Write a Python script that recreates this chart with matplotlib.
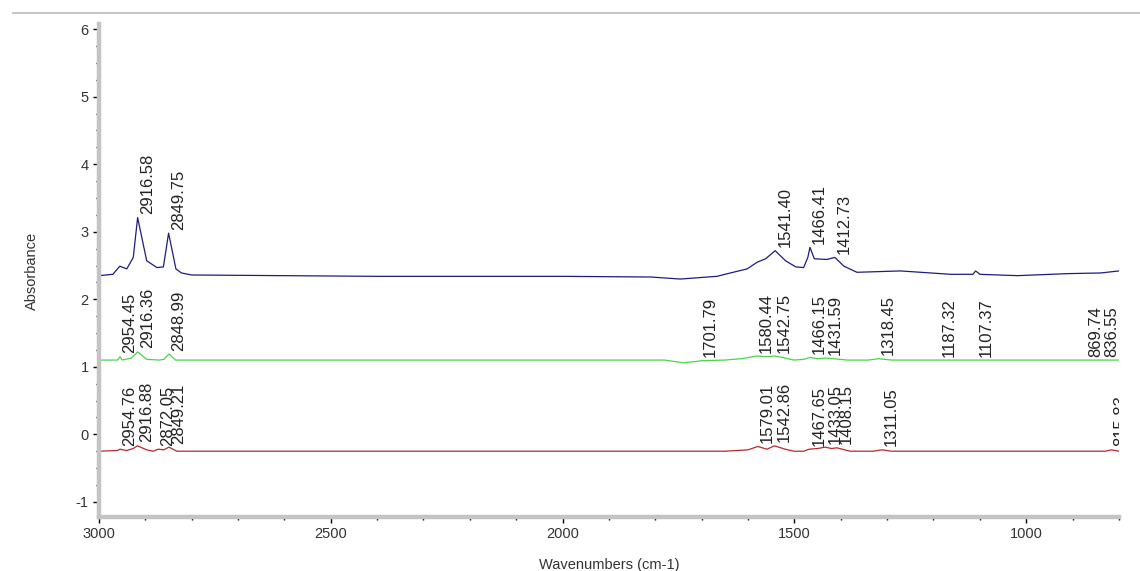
import numpy as np, matplotlib
matplotlib.use("Agg"); import matplotlib.pyplot as plt
from matplotlib.ticker import MultipleLocator
from matplotlib.lines import Line2D

plt.rcParams['font.family'] = ['Liberation Sans', 'DejaVu Sans']
plt.rcParams['axes.unicode_minus'] = False

# spectra (wavenumber, absorbance)
blue_wn  = [3000, 2970, 2955, 2940, 2926, 2916.6, 2897, 2875, 2861, 2849.8, 2834, 2822, 2800, 2600, 2400, 2200, 2000, 1810,
            1746, 1667, 1638, 1602, 1580, 1562, 1541.4, 1519, 1497, 1480, 1471, 1466.4, 1457, 1430, 1412.7, 1393, 1365,
            1271, 1163, 1115, 1109, 1100, 1019, 911, 839, 800]
blue_abs = [2.35, 2.37, 2.49, 2.45, 2.62, 3.21, 2.57, 2.47, 2.48, 2.98, 2.45, 2.39, 2.36, 2.35, 2.34, 2.34, 2.34, 2.33,
            2.30, 2.34, 2.39, 2.45, 2.55, 2.60, 2.72, 2.57, 2.48, 2.47, 2.62, 2.77, 2.60, 2.59, 2.62, 2.49, 2.40,
            2.42, 2.37, 2.37, 2.42, 2.37, 2.35, 2.38, 2.39, 2.42]

green_wn  = [3000, 2960, 2954.5, 2950, 2930, 2916.4, 2897, 2870, 2860, 2849.0, 2835, 2800, 2200, 1780, 1740, 1710, 1701.8,
             1650, 1615, 1580.4, 1560, 1542.8, 1520, 1501, 1480, 1466.2, 1450, 1431.6, 1400, 1386, 1340, 1318.5, 1290,
             1187.3, 1107.4, 869.7, 836.6, 800]
green_abs = [1.10, 1.10, 1.15, 1.10, 1.13, 1.22, 1.11, 1.10, 1.11, 1.19, 1.10, 1.10, 1.10, 1.10, 1.06, 1.08, 1.09,
             1.10, 1.12, 1.16, 1.15, 1.16, 1.13, 1.10, 1.11, 1.14, 1.12, 1.13, 1.11, 1.10, 1.10, 1.12, 1.10,
             1.10, 1.10, 1.10, 1.10, 1.10]

red_wn  = [3000, 2960, 2954.8, 2940, 2926, 2916.9, 2897, 2883, 2872.1, 2860, 2849.2, 2832, 2800, 2400, 2000, 1650,
           1600, 1579.0, 1559, 1542.9, 1520, 1501, 1480, 1467.7, 1450, 1433.1, 1420, 1408.2, 1380, 1330, 1311.1,
           1290, 1000, 830, 815.8, 800]
red_abs = [-0.25, -0.24, -0.22, -0.24, -0.21, -0.17, -0.23, -0.25, -0.22, -0.23, -0.19, -0.25, -0.25, -0.25, -0.25, -0.25,
           -0.23, -0.18, -0.22, -0.17, -0.22, -0.25, -0.25, -0.22, -0.21, -0.19, -0.21, -0.20, -0.25, -0.25, -0.23,
           -0.25, -0.25, -0.25, -0.23, -0.25]

blue_peaks  = [2916.58, 2849.75, 1541.40, 1466.41, 1412.73]
green_peaks = [2954.45, 2916.36, 2848.99, 1701.79, 1580.44, 1542.75, 1466.15, 1431.59, 1318.45, 1187.32, 1107.37, 869.74, 836.55]
red_peaks   = [2954.76, 2916.88, 2872.05, 2849.21, 1579.01, 1542.86, 1467.65, 1433.05, 1408.15, 1311.05, 815.83]

series = [(blue_wn, blue_abs, blue_peaks, '#1c1c84'),
          (green_wn, green_abs, green_peaks, '#4bd44b'),
          (red_wn, red_abs, red_peaks, '#b82a2a')]

fig = plt.figure(figsize=(11.4, 5.71), dpi=100)
ax = fig.add_axes([0.0868, 0.0951, 0.8947, 0.862])
for wn, ab, pk, c in series:
    ax.plot(wn, ab, color=c, lw=0.9)
    for p in pk:
        yp = np.interp(p, wn[::-1], ab[::-1])
        ax.annotate(f"{p:.2f}", (p, yp), xytext=(1.5, 2.5), textcoords='offset points', rotation=90,
                    ha='left', va='bottom', fontsize=12, color='#222222', annotation_clip=False, clip_on=True)

ax.set_xlim(3000, 800); ax.set_ylim(-1.22, 6.07)
ax.xaxis.set_major_locator(MultipleLocator(500)); ax.xaxis.set_minor_locator(MultipleLocator(100))
ax.yaxis.set_major_locator(MultipleLocator(1)); ax.yaxis.set_minor_locator(MultipleLocator(0.25))
for s in ['top', 'right']: ax.spines[s].set_visible(False)
for s in ['left', 'bottom']: ax.spines[s].set_color('#c4c4c4'); ax.spines[s].set_linewidth(3.2)
ax.tick_params(which='major', length=4.5, width=1, color='k', labelsize=10.5, labelcolor='#333333', pad=3)
ax.tick_params(which='minor', length=2.5, width=1, color='k')
ax.set_xlabel("Wavenumbers (cm-1)", fontsize=10.5, color='#333333', labelpad=12)
ax.set_ylabel("Absorbance", fontsize=10.5, color='#333333', labelpad=26)

# window frame line at top
fig.add_artist(Line2D([0.011, 1.0], [0.977, 0.977], transform=fig.transFigure, color='#c8c8c8', lw=1.5))

fig.savefig("out.png", dpi=100)
